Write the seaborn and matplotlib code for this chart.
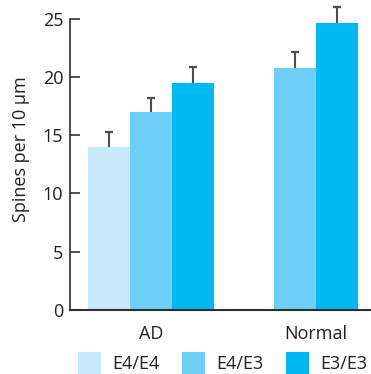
import numpy as np
import pandas as pd
import seaborn as sns
import matplotlib.pyplot as plt
from matplotlib.patches import Patch

# values
groups = ['AD', 'AD', 'AD', 'Normal', 'Normal']
genotypes = ['E4/E4', 'E4/E3', 'E3/E3', 'E4/E3', 'E3/E3']
spines = [14.0, 16.95, 19.5, 20.8, 24.65]
sem = [1.3, 1.25, 1.35, 1.3, 1.35]

group_order = ['AD', 'Normal']
hue_order = ['E4/E4', 'E4/E3', 'E3/E3']
colors = ['#c7e9f9', '#6dcff6', '#00b9f1']

df = pd.DataFrame({'group': groups, 'genotype': genotypes,
                   'spines': spines, 'err': sem})

# bars of a group sit side by side, centred on the group position
bar_w = 0.2545
pos = []
for gi, g in enumerate(group_order):
  sub = df[df.group == g]
  n = len(sub)
  for k in range(n):
    pos.append(gi + (k - (n - 1) / 2) * bar_w)
df['pos'] = pos

sns.set_style('white')
plt.rcParams['font.family'] = ['Open Sans', 'DejaVu Sans']
txt = '#231f20'

fig, ax = plt.subplots(figsize=(3.71, 3.74), dpi=100)
fig.subplots_adjust(left=0.189, right=1.0, bottom=0.171, top=1.0)

sns.barplot(data=df, x='pos', y='spines', hue='genotype',
  hue_order=hue_order, palette=dict(zip(hue_order, colors)),
  native_scale=True, dodge=False, width=1.0, saturation=1,
  linewidth=0, edgecolor='none', legend=False, ax=ax)

# upper error bars only
_, caps, _ = ax.errorbar(df['pos'], df['spines'],
  yerr=[np.zeros(len(df)), df['err'].to_numpy()],
  fmt='none', ecolor='#4a4f55', elinewidth=1.5, capsize=3.2,
  capthick=1.6)
caps[0].set_visible(False)

ax.set_xlim(-0.491, 1.333)
ax.set_ylim(0, 26.6)
ax.set_yticks([0, 5, 10, 15, 20, 25])
ax.set_xticks([0, 1], group_order)
ax.tick_params(axis='x', bottom=False, labelsize=13, pad=7, colors=txt)
ax.tick_params(axis='y', left=True, direction='in', length=7.5, width=1.2,
  color='#333333', labelsize=13, labelcolor=txt, pad=5)
ax.set_xlabel('')
ax.set_ylabel('Spines per 10 µm', fontsize=13, color=txt)
ax.yaxis.set_label_coords(-0.135, 0.52)

for s in ['top', 'right']:
  ax.spines[s].set_visible(False)
ax.spines['left'].set_bounds(0, 25)
ax.spines['left'].set_color('#2e2e2e')
ax.spines['bottom'].set_color('#2e2e2e')
ax.spines['left'].set_linewidth(1.2)
ax.spines['bottom'].set_linewidth(1.5)

handles = [Patch(facecolor=c, edgecolor='none') for c in colors]
fig.legend(handles, hue_order, loc='center', bbox_to_anchor=(0.6, 0.03),
  ncol=3, frameon=False, fontsize=13, handlelength=1.28, handleheight=1.45,
  handletextpad=0.66, columnspacing=1.2, labelcolor=txt,
  borderpad=0, borderaxespad=0)

plt.savefig('out.png', dpi=100)
